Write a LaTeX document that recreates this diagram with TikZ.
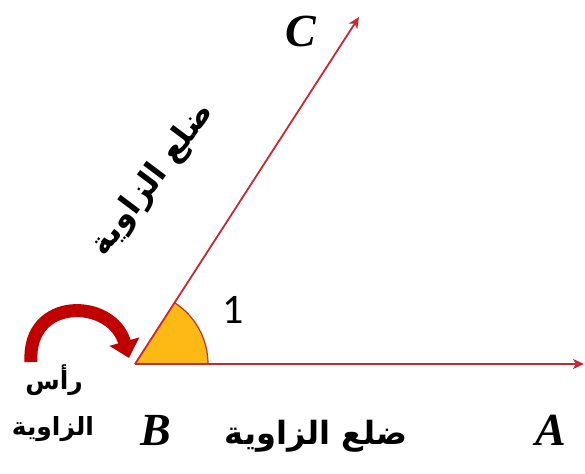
\documentclass[tikz,border=0pt]{standalone}
\usepackage{fontspec}
\usetikzlibrary{arrows.meta,calc}
\newfontfamily\arabicfont[Script=Arabic]{DejaVu Sans}
\newfontfamily\numfont{Carlito}
\setmainfont{Liberation Serif}
\TeXXeTstate=1
\definecolor{rayred}{RGB}{200,40,50}
\definecolor{darkred}{RGB}{192,0,0}
\definecolor{sectorfill}{RGB}{255,185,20}
\definecolor{sectoredge}{RGB}{190,50,30}
\tikzset{
  ray/.style={draw=rayred, line width=1.8pt, -{Stealth[length=11pt,width=10pt,inset=3pt]}},
  ptlabel/.style={font=\fontsize{46}{50}\selectfont\bfseries\itshape},
  arlabel/.style={font=\arabicfont\bfseries\fontsize{32}{36}\selectfont},
  arsmall/.style={font=\arabicfont\bfseries\fontsize{25}{28}\selectfont},
}
\begin{document}
\begin{tikzpicture}[x=1pt,y=-1pt]
\useasboundingbox (0,0) rectangle (585,473);
\coordinate (B) at (135,364);
\coordinate (A) at (584,364);
\coordinate (C) at (359,17);
\coordinate (S) at (208,364);
% sector
\fill[sectorfill] (B) -- (S) arc[start angle=0,end angle=-57,radius=73] -- cycle;
\draw[sectoredge, line width=1.2pt] (S) arc[start angle=0,end angle=-57,radius=73];
\draw[ray] (B) -- (A);
\draw[ray] (B) -- (C);
% labels
\node[ptlabel] (lC) at (301,31) {C};
\node[ptlabel] (lB) at (156,431) {B};
\node[ptlabel] (lA) at (551,430) {A};
\node[font=\numfont\fontsize{42}{44}\selectfont] (l1) at (233,310) {1};
\node[arlabel] (s1) at (316,436) {\beginR ضلع الزاوية\endR};
\node[arlabel, rotate=53] (s2) at (153,180) {\beginR ضلع الزاوية\endR};
\node[arsmall] (v1) at (54,380) {\beginR رأس\endR};
\node[arsmall] (v2) at (53,429) {\beginR الزاوية\endR};
% curved arrow
\coordinate (cs) at (31,362);
\coordinate (ce) at (129,358);
\draw[darkred, line width=13pt, -{Triangle[length=17pt,width=30pt]}] (cs) .. controls (27,296) and (112,298) .. (ce);
\end{tikzpicture}
\end{document}
